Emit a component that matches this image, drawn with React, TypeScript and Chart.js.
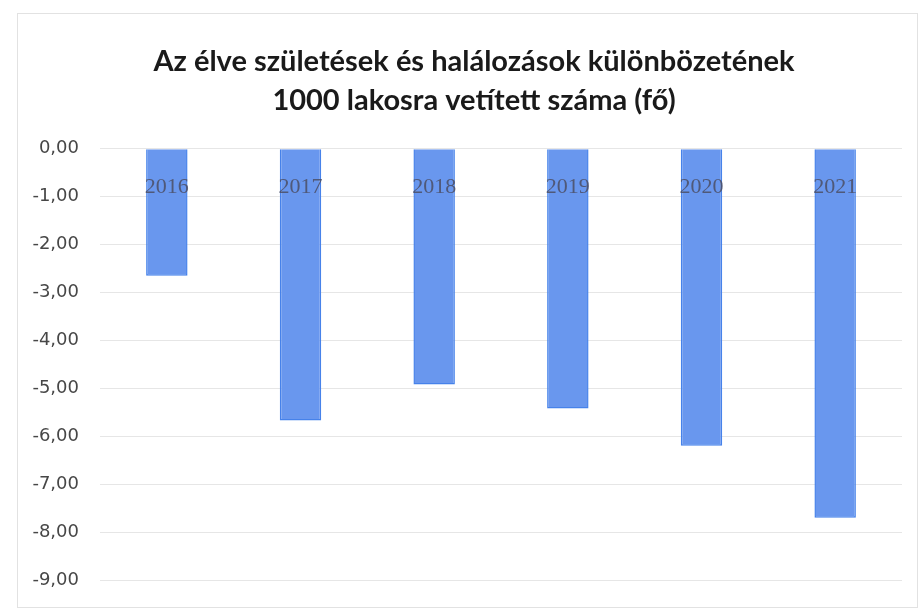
import React, { useEffect, useRef } from "react";
import { Chart, registerables } from "chart.js";

Chart.register(...registerables);

const titleLines = [
  "Az élve születések és halálozások különbözetének",
  "1000 lakosra vetített száma (fő)",
];
const years = ["2016", "2017", "2018", "2019", "2020", "2021"];
const values = [-2.65, -5.67, -4.92, -5.42, -6.2, -7.7];
const yMin = -9;
const yMax = 0;

export default function App() {
  const ref = useRef<HTMLCanvasElement | null>(null);

  useEffect(() => {
    if (!ref.current) return;
    const chart = new Chart(ref.current, {
      type: "bar",
      data: {
        labels: years,
        datasets: [
          {
            data: values,
            backgroundColor: "#6997ee",
            borderColor: "#4682ea",
            borderWidth: 1.5,
            barPercentage: 0.31,
            categoryPercentage: 1,
          },
        ],
      },
      options: {
        animation: false,
        responsive: true,
        maintainAspectRatio: false,
        layout: { padding: { left: 46, right: 18, top: 0, bottom: 34 } },
        plugins: {
          legend: { display: false },
          tooltip: { enabled: false },
          title: {
            display: true,
            text: titleLines,
            color: "#1a1a1a",
            font: { family: "Lato", size: 29, weight: "bold", lineHeight: 1.34 },
            padding: { top: 42, bottom: 29 },
          },
        },
        scales: {
          x: {
            position: { y: 0 },
            grid: { display: false },
            border: { display: false },
            ticks: {
              z: 1,
              color: "rgba(75,78,100,0.85)",
              padding: 17,
              font: { family: "Liberation Serif", size: 22 },
            },
          },
          y: {
            min: yMin,
            max: yMax,
            afterFit: (scale: any) => {
              scale.width = 54;
              scale._computeLabelArea = () => undefined;
            },
            grid: { color: "#e6e6e6", drawTicks: false },
            border: { display: false },
            ticks: {
              stepSize: 1,
              padding: 21,
              color: "#474747",
              font: { family: "DejaVu Sans", size: 18 },
              callback: (v: any) => Number(v).toFixed(2).replace(".", ","),
            },
          },
        },
      },
    });
    return () => chart.destroy();
  }, []);

  return (
    <div style={{ position: "fixed", left: 0, top: 0, width: 920, height: 614, background: "#fff" }}>
      <canvas ref={ref} width={920} height={614} />
      <div
        style={{
          position: "absolute",
          left: 17,
          top: 13,
          width: 899,
          height: 593,
          border: "1px solid #e2e2e2",
          pointerEvents: "none",
        }}
      />
    </div>
  );
}
